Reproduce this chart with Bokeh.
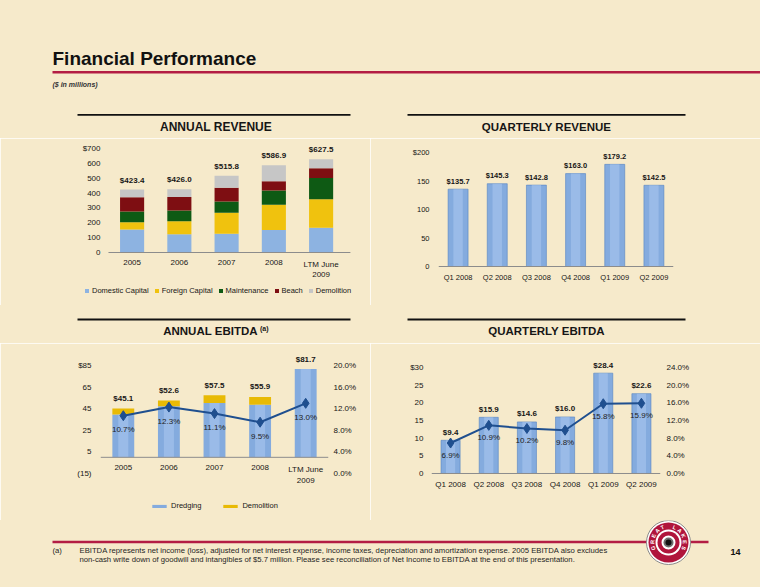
import math
from bokeh.plotting import figure
from bokeh.layouts import column, row
from bokeh.models import Range1d, FactorRange, LinearAxis, ColumnDataSource, PrintfTickFormatter, Span
from bokeh.core.properties import value
from bokeh.embed import file_html
from bokeh.resources import INLINE

FONT = "Liberation Sans"
BG = "#F6EACB"
INK = "#161616"
CRIMSON = "#B31D44"

# ---------------- data ----------------
years = ["2005", "2006", "2007", "2008", "LTM June\n2009"]
rev_domestic = [155.0, 123.0, 126.0, 152.0, 166.0]
rev_foreign = [49.0, 88.0, 141.0, 169.0, 193.0]
rev_maint = [72.0, 71.0, 76.0, 96.0, 143.0]
rev_beach = [96.0, 92.0, 92.0, 63.0, 65.0]
rev_demo = [51.4, 52.0, 80.8, 106.9, 60.5]
rev_total = [423.4, 426.0, 515.8, 586.9, 627.5]
rev_series = ["Domestic Capital", "Foreign Capital", "Maintenance", "Beach", "Demolition"]
rev_ticks = [0, 100, 200, 300, 400, 500, 600, 700]

quarters = ["Q1 2008", "Q2 2008", "Q3 2008", "Q4 2008", "Q1 2009", "Q2 2009"]
q_revenue = [135.7, 145.3, 142.8, 163.0, 179.2, 142.5]
q_rev_ticks = [0, 50, 100, 150, 200]

ebitda_dredging = [39.6, 47.3, 50.4, 48.6, 81.7]
ebitda_demo = [5.5, 5.3, 7.1, 7.3, 0.0]
ebitda_total = [45.1, 52.6, 57.5, 55.9, 81.7]
ebitda_margin = [10.7, 12.3, 11.1, 9.5, 13.0]
ebitda_series = ["Dredging", "Demolition"]
ebitda_ticks = [-15, 5, 25, 45, 65, 85]
ebitda_pct_ticks = [0, 4, 8, 12, 16, 20]

q_ebitda = [9.4, 15.9, 14.6, 16.0, 28.4, 22.6]
q_margin = [6.9, 10.9, 10.2, 9.8, 15.8, 15.9]
q_ebitda_ticks = [0, 5, 10, 15, 20, 25, 30]
q_ebitda_pct_ticks = [0, 4, 8, 12, 16, 20, 24]

footnote = [
    "EBITDA represents net income (loss), adjusted for net interest expense, income taxes, depreciation and amortization expense.  2005 EBITDA also excludes",
    "non-cash write down of goodwill and intangibles of $5.7 million.  Please see reconciliation of Net Income to EBITDA at the end of this presentation.",
]

# ---------------- colours ----------------
C_BLUE = "#84ABDE"
C_BLUE_EDGE = "#5483C2"
C_BLUE_HI = "#A9C6EE"
rev_colors = ["#8DB3E1", "#F0C20E", "#0E5A14", "#7E0E12", "#C6C6C6"]
ebitda_colors = ["#84ABDE", "#E8BA05"]
LINE_C = "#1F4F8F"
AXIS_C = "#8C8C8C"


def paint_bg(p):
    p.background_fill_color = BG
    p.border_fill_color = BG
    p.outline_line_color = BG
    p.outline_line_width = 2
    p.grid.visible = False


def deco(x0, y0, w, h):
    p = figure(width=w, height=h, x_range=Range1d(x0, x0 + w), y_range=Range1d(y0 + h, y0),
               x_axis_location=None, y_axis_location=None, min_border=0,
               output_backend="svg", toolbar_location=None)
    paint_bg(p)
    return p


def txt(p, x, y, s, size, style="normal", align="left", baseline="middle", color=INK, angle=0.0):
    p.text(x=[x], y=[y], text=[s], text_font=value(FONT), text_font_size=size,
           text_font_style=style, text_align=align, text_baseline=baseline,
           text_color=color, angle=angle)


def chart(xr, y0, y1, w, h, ml, mr, mt, mb, y_standoff=8):
    # the frame reaches below the zero line so that category labels and legend sit inside it
    p = figure(x_range=xr, y_range=Range1d(y0, y1), width=w, height=h,
               min_border_left=ml, min_border_right=mr, min_border_top=mt, min_border_bottom=mb,
               x_axis_location=None, output_backend="svg", toolbar_location=None)
    paint_bg(p)
    ax = p.yaxis[0]
    ax.major_label_text_font = FONT
    ax.major_label_text_font_size = "8px"
    ax.major_label_text_color = INK
    ax.major_tick_line_color = None
    ax.minor_tick_line_color = None
    ax.major_tick_in = 0
    ax.major_tick_out = 0
    ax.axis_line_color = None
    ax.major_label_standoff = y_standoff
    return p


def right_axis(p, ticks, standoff):
    ax = LinearAxis(y_range_name="pct", ticker=ticks, formatter=PrintfTickFormatter(format="%.1f%%"),
                    axis_line_color=None, major_tick_line_color=None, minor_tick_line_color=None,
                    major_tick_in=0, major_tick_out=0,
                    major_label_text_font=FONT, major_label_text_font_size="8px",
                    major_label_text_color=INK, major_label_standoff=standoff)
    p.add_layout(ax, "right")


def style_legend(p, loc, gw, gh, spacing):
    lg = p.legend[0]
    lg.orientation = "horizontal"
    lg.location = loc
    lg.background_fill_alpha = 0
    lg.border_line_color = None
    lg.padding = 0
    lg.margin = 0
    lg.spacing = spacing
    lg.glyph_width = gw
    lg.glyph_height = gh
    lg.label_standoff = 3
    lg.label_height = 5
    lg.label_text_font = FONT
    lg.label_text_font_size = "7.5px"
    lg.label_text_color = INK


def cat_labels(p, src, xcol, offset, size="8px"):
    # category labels just under the zero line
    p.text(x=xcol, y=0, text="name", source=src, text_font=value(FONT), text_font_size=size,
           text_align="center", text_baseline="top", y_offset=offset, text_color=INK,
           text_line_height=1.2)


def zero_line(p):
    p.add_layout(Span(location=0, dimension="width", line_color=AXIS_C, line_width=1))


# ---------------- header ----------------
header = deco(0, 0, 760, 108)
txt(header, 52, 58.4, "Financial Performance", "19px", "bold", color="#111111")
header.segment(x0=[52], y0=[71.8], x1=[760], y1=[71.8], line_color=CRIMSON, line_width=2.5)
txt(header, 52, 84, "($ in millions)", "7px", "bold italic", color="#333333")

# ---------------- chart titles ----------------
t_ar = deco(0, 108, 370, 30)
t_ar.segment(x0=[77], y0=[114.3], x1=[350], y1=[114.3], line_color="#111111", line_width=1.8)
txt(t_ar, 215.5, 126.5, "ANNUAL REVENUE", "12px", "bold", align="center")

t_qr = deco(370, 108, 390, 30)
t_qr.segment(x0=[407], y0=[114.3], x1=[685], y1=[114.3], line_color="#111111", line_width=1.8)
txt(t_qr, 546, 126.7, "QUARTERLY REVENUE", "11.5px", "bold", align="center")

t_ae = deco(0, 305, 370, 38)
t_ae.segment(x0=[77], y0=[319], x1=[350], y1=[319], line_color="#111111", line_width=1.8)
txt(t_ae, 162.7, 330, "ANNUAL EBITDA", "11.5px", "bold")
txt(t_ae, 259.5, 327.5, "(a)", "7px", "bold")

t_qe = deco(370, 305, 390, 38)
t_qe.segment(x0=[407], y0=[319], x1=[685], y1=[319], line_color="#111111", line_width=1.8)
txt(t_qe, 546, 330.7, "QUARTERLY EBITDA", "11.5px", "bold", align="center")

# ---------------- annual revenue ----------------
xi = list(range(len(years)))
ar = chart(Range1d(-1.092, 4.749), -329.8, 720.2, 370, 167, 80, 14, 7, 4, y_standoff=8)
src_ar = ColumnDataSource(dict(xi=xi, name=years, total=rev_total,
                               lab=["$%.1f" % v for v in rev_total],
                               **dict(zip(rev_series, [rev_domestic, rev_foreign, rev_maint, rev_beach, rev_demo]))))
ar.vbar_stack(rev_series, x="xi", width=0.51, color=rev_colors, line_color=None,
              source=src_ar, legend_label=rev_series)
ar.segment(x0=[xi[0] - 0.5], y0=[0], x1=[xi[-1] + 0.62], y1=[0], line_color=AXIS_C, line_width=1)
ar.text(x="xi", y="total", text="lab", source=src_ar, text_font=value(FONT),
        text_font_size="8px", text_font_style="bold", text_align="center",
        text_baseline="middle", y_offset=-9.5, text_color=INK)
cat_labels(ar, src_ar, "xi", 7)
ar.yaxis.fixed_location = xi[0] - 0.5
ar.yaxis.ticker = rev_ticks
ar.yaxis.major_label_overrides = {700: "$700"}
style_legend(ar, (4, 6), 5, 5, 5)

# ---------------- quarterly revenue ----------------
qr = chart(FactorRange(*quarters), -61.4, 212.3, 390, 167, 68, 87, 7, 4, y_standoff=9)
qr.yaxis.major_label_text_font_size = "7.5px"
src_qr = ColumnDataSource(dict(q=quarters, name=quarters, v=q_revenue, lab=["$%.1f" % v for v in q_revenue]))
zero_line(qr)
qr.vbar(x="q", top="v", width=0.51, source=src_qr, fill_color=C_BLUE, line_color=C_BLUE_EDGE, line_width=0.6)
qr.vbar(x="q", top="v", width=0.24, source=src_qr, fill_color=C_BLUE_HI, fill_alpha=0.6, line_color=None)
qr.text(x="q", y="v", text="lab", source=src_qr, text_font=value(FONT),
        text_font_size="7.5px", text_font_style="bold", text_align="center",
        text_baseline="middle", y_offset=-8, text_color=INK)
cat_labels(qr, src_qr, "q", 6.5, size="7.5px")
qr.yaxis.ticker = q_rev_ticks
qr.yaxis.major_label_overrides = {200: "$200"}

# ---------------- annual EBITDA ----------------
ae = chart(Range1d(-0.5, 4.5), -54.8, 98.9, 370, 177, 100, 42, 7, 4, y_standoff=9)
ae.extra_y_ranges = {"pct": Range1d(-7.96, 22.78)}
src_ae = ColumnDataSource(dict(xi=xi, name=years, total=ebitda_total, margin=ebitda_margin,
                               lab=["$%.1f" % v for v in ebitda_total],
                               mlab=["%.1f%%" % v for v in ebitda_margin],
                               Dredging=ebitda_dredging, Demolition=ebitda_demo))
ae.vbar_stack(ebitda_series, x="xi", width=0.48, color=ebitda_colors, line_color=None,
              source=src_ae, legend_label=ebitda_series)
ae.vbar(x="xi", top="Dredging", width=0.22, source=src_ae, fill_color=C_BLUE_HI, fill_alpha=0.6, line_color=None)
zero_line(ae)
ae.line(x="xi", y="margin", source=src_ae, y_range_name="pct", line_color=LINE_C, line_width=2)
ae.scatter(x="xi", y="margin", source=src_ae, y_range_name="pct", marker="diamond",
           size=10, fill_color=LINE_C, line_color=LINE_C)
ae.text(x="xi", y="total", text="lab", source=src_ae, text_font=value(FONT),
        text_font_size="8px", text_font_style="bold", text_align="center",
        text_baseline="middle", y_offset=-10, text_color=INK)
ae.text(x="xi", y="margin", text="mlab", source=src_ae, y_range_name="pct", text_font=value(FONT),
        text_font_size="8px", text_align="center", text_baseline="middle", y_offset=14, text_color="#222222")
cat_labels(ae, src_ae, "xi", 7.5)
ae.yaxis.ticker = ebitda_ticks
ae.yaxis.major_label_overrides = {-15: "(15)", 85: "$85"}
right_axis(ae, ebitda_pct_ticks, 5)
style_legend(ae, (50, 6), 18, 4, 20)

# ---------------- quarterly EBITDA ----------------
qe = chart(FactorRange(*quarters), -12.17, 34.81, 390, 177, 61, 100, 7, 4, y_standoff=8)
qe.extra_y_ranges = {"pct": Range1d(-9.735, 27.85)}
src_qe = ColumnDataSource(dict(q=quarters, name=quarters, v=q_ebitda, m=q_margin,
                               lab=["$%.1f" % v for v in q_ebitda],
                               mlab=["%.1f%%" % v for v in q_margin]))
zero_line(qe)
qe.vbar(x="q", top="v", width=0.5, source=src_qe, fill_color=C_BLUE, line_color=C_BLUE_EDGE, line_width=0.6)
qe.vbar(x="q", top="v", width=0.24, source=src_qe, fill_color=C_BLUE_HI, fill_alpha=0.6, line_color=None)
qe.line(x="q", y="m", source=src_qe, y_range_name="pct", line_color=LINE_C, line_width=2)
qe.scatter(x="q", y="m", source=src_qe, y_range_name="pct", marker="diamond",
           size=10, fill_color=LINE_C, line_color=LINE_C)
qe.text(x="q", y="v", text="lab", source=src_qe, text_font=value(FONT),
        text_font_size="8px", text_font_style="bold", text_align="center",
        text_baseline="middle", y_offset=-8, text_color=INK)
qe.text(x="q", y="m", text="mlab", source=src_qe, y_range_name="pct", text_font=value(FONT),
        text_font_size="8px", text_align="center", text_baseline="middle", y_offset=12.5, text_color="#222222")
cat_labels(qe, src_qe, "q", 7)
qe.yaxis.ticker = q_ebitda_ticks
qe.yaxis.major_label_overrides = {30: "$30"}
right_axis(qe, q_ebitda_pct_ticks, 6)

# ---------------- footer ----------------
footer = deco(0, 520, 760, 67)
footer.segment(x0=[52], y0=[541.5], x1=[708], y1=[541.5], line_color=CRIMSON, line_width=2.5)
txt(footer, 52, 549.5, "(a)", "7.7px", color="#1E1E1E")
txt(footer, 79, 549.5, footnote[0], "7.7px", color="#1E1E1E")
txt(footer, 79, 558.8, footnote[1], "7.7px", color="#1E1E1E")
txt(footer, 735, 551, "14", "9px", "bold", align="center", color="#111111")

# logo (decorative)
cx, cy = 668, 542
for size, fill, line in [(44, "white", "#8A8A8A"), (40, "#B0153C", None), (26, "white", None),
                         (22, "#B0153C", None), (14, "white", None), (10, "#6E6E6E", None), (6, "#111111", None)]:
    footer.scatter(x=[cx], y=[cy], size=size, marker="circle", fill_color=fill,
                   line_color=line, line_width=1 if line else 0)
letters = "GREAT LAKES"
for i, ch in enumerate(letters):
    if ch == " ":
        continue
    th = math.radians(200 - i * 22)
    txt(footer, cx + 16.3 * math.cos(th), cy - 16.3 * math.sin(th), ch, "5.5px", "bold",
        align="center", color="white", angle=th - math.pi / 2)

layout = column(
    header,
    row(t_ar, t_qr, spacing=0),
    row(ar, qr, spacing=0),
    row(t_ae, t_qe, spacing=0),
    row(ae, qe, spacing=0),
    footer,
    spacing=0,
)

open("out.html", "w").write(file_html(layout, INLINE))
